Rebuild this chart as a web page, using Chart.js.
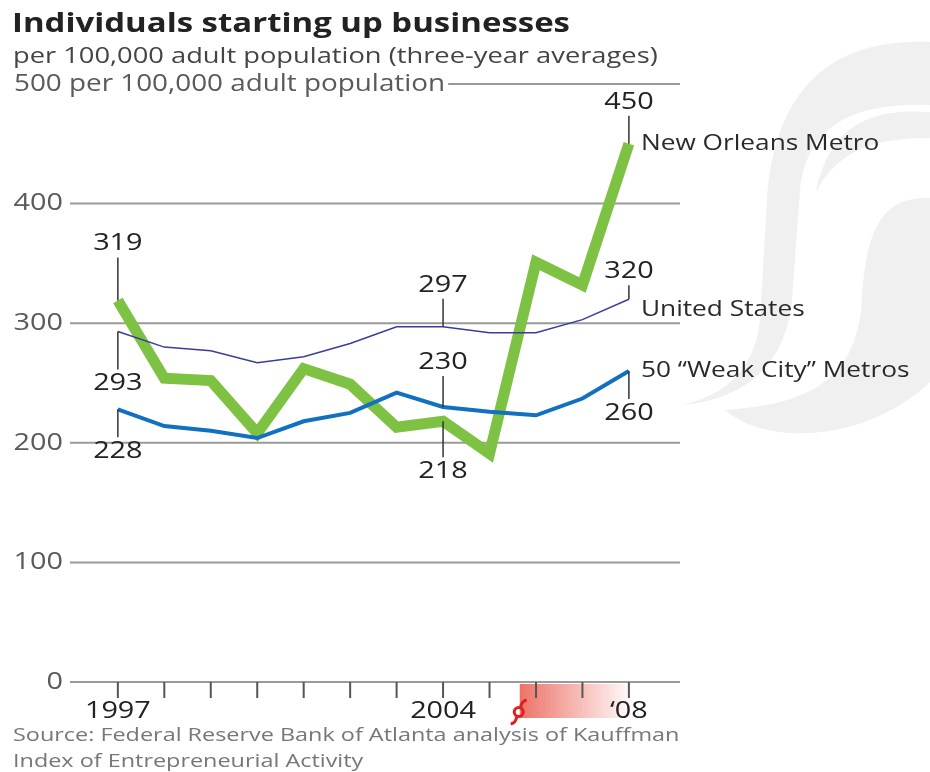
<!DOCTYPE html>
<html>
<head>
<meta charset="utf-8">
<script src="https://cdn.jsdelivr.net/npm/chart.js@4.4.1/dist/chart.umd.min.js"></script>
<style>
  html, body { margin: 0; padding: 0; background: #fff; }
  #wrap { position: relative; width: 930px; height: 772px; overflow: hidden; }
  #chart { position: absolute; left: 0; top: 0; }
  .txt { position: absolute; font-family: "Open Sans", sans-serif; white-space: nowrap; line-height: 1; transform-origin: 0 0; }
  #title { left: 12px; top: 8px; font-size: 27px; font-weight: 700; color: #222; transform: scaleX(1.22); }
  #subtitle { left: 13px; top: 43px; font-size: 22px; color: #444; transform: scaleX(1.24); }
  #source { left: 13px; top: 721px; font-size: 18px; line-height: 26px; color: #777; transform: scaleX(1.3); }
</style>
</head>
<body>
<div id="wrap">
  <canvas id="chart" width="930" height="772"></canvas>
  <div class="txt" id="title">Individuals starting up businesses</div>
  <div class="txt" id="subtitle">per 100,000 adult population (three-year averages)</div>
  <div class="txt" id="source">Source: Federal Reserve Bank of Atlanta analysis of Kauffman<br>Index of Entrepreneurial Activity</div>
</div>
<script>
const years = [1997, 1998, 1999, 2000, 2001, 2002, 2003, 2004, 2005, 2006, 2007, 2008];
const newOrleans = [319, 254, 252, 208, 262, 249, 213, 218, 191, 351, 332, 450];
const unitedStates = [293, 280, 277, 267, 272, 283, 297, 297, 292, 292, 303, 320];
const weakCity = [228, 214, 210, 204, 218, 225, 242, 230, 226, 223, 237, 260];
const yTicks = [0, 100, 200, 300, 400, 500];
const yTickLabels = ["0", "100", "200", "300", "400", "500 per 100,000 adult population"];
const xLabels = [[1997, "1997"], [2004, "2004"], [2008, "\u201808"]];
const katrinaStart = 2005.65;

const FONT = '"Open Sans", sans-serif';
const NUM_FONT = "24px " + FONT;
const NUM_SX = 1.2;

// callouts: series, year index, side
const callouts = [
  { data: newOrleans, i: 0, side: "up", gap: 57 },
  { data: unitedStates, i: 0, side: "down", gap: 52 },
  { data: weakCity, i: 0, side: "down", gap: 42 },
  { data: unitedStates, i: 7, side: "up", gap: 42 },
  { data: weakCity, i: 7, side: "up", gap: 45 },
  { data: newOrleans, i: 7, side: "down", gap: 50 },
  { data: newOrleans, i: 11, side: "up", gap: 42 },
  { data: unitedStates, i: 11, side: "up", gap: 28 },
  { data: weakCity, i: 11, side: "down", gap: 42 },
];
const seriesLabels = [
  { text: "New Orleans Metro", data: newOrleans, dy: 0 },
  { text: "United States", data: unitedStates, dy: 11 },
  { text: "50 \u201cWeak City\u201d Metros", data: weakCity, dy: 0 },
];

function pts(arr) {
  return arr.map((v, i) => ({ x: years[i], y: v }));
}

// text squeezed out sideways like the original print type
function wideText(ctx, s, x, y, sx, align) {
  ctx.save();
  ctx.translate(x, y);
  ctx.scale(sx, 1);
  ctx.textAlign = align;
  ctx.fillText(s, 0, 0);
  ctx.restore();
  return ctx.measureText(s).width * sx;
}

function watermark(ctx) {
  ctx.fillStyle = "#f0f0f0";
  ctx.beginPath();
  ctx.moveTo(930, 42);
  ctx.bezierCurveTo(840, 38, 775, 80, 767, 200);
  ctx.lineTo(760, 320);
  ctx.bezierCurveTo(755, 370, 725, 395, 682, 405);
  ctx.bezierCurveTo(740, 400, 785, 370, 792, 300);
  ctx.lineTo(800, 190);
  ctx.bezierCurveTo(808, 120, 860, 103, 930, 105);
  ctx.closePath();
  ctx.fill();

  ctx.beginPath();
  ctx.moveTo(930, 112);
  ctx.bezierCurveTo(870, 108, 830, 125, 816, 192);
  ctx.bezierCurveTo(838, 150, 875, 138, 930, 138);
  ctx.closePath();
  ctx.fill();

  ctx.beginPath();
  ctx.moveTo(930, 198);
  ctx.bezierCurveTo(880, 196, 866, 232, 862, 300);
  ctx.bezierCurveTo(857, 372, 820, 404, 725, 410);
  ctx.bezierCurveTo(770, 448, 870, 440, 930, 382);
  ctx.closePath();
  ctx.fill();
}

const backdrop = {
  id: "backdrop",
  beforeDatasetsDraw(chart) {
    const ctx = chart.ctx;
    const xs = chart.scales.x, ys = chart.scales.y;
    const right = chart.chartArea.right;
    ctx.save();

    watermark(ctx);

    // katrina band
    const kx0 = xs.getPixelForValue(katrinaStart);
    const kx1 = xs.getPixelForValue(2008.1);
    const y0 = ys.getPixelForValue(0);
    const g = ctx.createLinearGradient(kx0, 0, kx1, 0);
    g.addColorStop(0, "rgba(234,90,78,0.85)");
    g.addColorStop(1, "rgba(234,90,78,0.0)");
    ctx.fillStyle = g;
    ctx.fillRect(kx0, y0 + 2, kx1 - kx0, 34);

    // hurricane symbol
    const hx = kx0 - 1, hy = y0 + 30;
    ctx.strokeStyle = "#e02020";
    ctx.lineWidth = 3;
    ctx.beginPath();
    ctx.arc(hx, hy, 4.5, 0, Math.PI * 2);
    ctx.stroke();
    ctx.beginPath();
    ctx.moveTo(hx + 2, hy - 5);
    ctx.quadraticCurveTo(hx + 3, hy - 11, hx + 8, hy - 12);
    ctx.moveTo(hx - 2, hy + 5);
    ctx.quadraticCurveTo(hx - 3, hy + 11, hx - 8, hy + 12);
    ctx.stroke();

    // gridlines and y labels
    ctx.font = NUM_FONT;
    ctx.textBaseline = "middle";
    yTicks.forEach((v, k) => {
      const y = ys.getPixelForValue(v);
      const label = yTickLabels[k];
      ctx.fillStyle = "#5a5a5a";
      let start;
      if (label.length <= 3) {
        wideText(ctx, label, 63, y, NUM_SX, "right");
        start = 70;
      } else {
        start = 14 + wideText(ctx, label, 14, y, 1.16, "left") + 3;
      }
      ctx.strokeStyle = "#9a9a9a";
      ctx.lineWidth = 2;
      ctx.beginPath();
      ctx.moveTo(start, y);
      ctx.lineTo(right, y);
      ctx.stroke();
    });

    // x ticks
    ctx.strokeStyle = "#555";
    ctx.lineWidth = 2;
    years.forEach((yr) => {
      const x = xs.getPixelForValue(yr);
      ctx.beginPath();
      ctx.moveTo(x, y0);
      ctx.lineTo(x, y0 + 16);
      ctx.stroke();
    });
    ctx.fillStyle = "#222";
    xLabels.forEach(([yr, t]) => {
      wideText(ctx, t, xs.getPixelForValue(yr), y0 + 29, NUM_SX, "center");
    });
    ctx.restore();
  },
  afterDatasetsDraw(chart) {
    const ctx = chart.ctx;
    const xs = chart.scales.x, ys = chart.scales.y;
    ctx.save();
    ctx.textBaseline = "middle";
    callouts.forEach((c) => {
      const x = xs.getPixelForValue(years[c.i]);
      const y = ys.getPixelForValue(c.data[c.i]);
      const dir = c.side === "up" ? -1 : 1;
      const ly = y + dir * c.gap;
      ctx.strokeStyle = "#333";
      ctx.lineWidth = 1.5;
      ctx.beginPath();
      ctx.moveTo(x, y);
      ctx.lineTo(x, ly - dir * 14);
      ctx.stroke();
      ctx.fillStyle = "#222";
      ctx.font = NUM_FONT;
      wideText(ctx, String(c.data[c.i]), x, ly, NUM_SX, "center");
    });
    ctx.font = "21px " + FONT;
    seriesLabels.forEach((s) => {
      const n = s.data.length - 1;
      const x = xs.getPixelForValue(years[n]) + 12;
      const y = ys.getPixelForValue(s.data[n]) + s.dy;
      ctx.fillStyle = "#2a2a2a";
      wideText(ctx, s.text, x, y, 1.25, "left");
    });
    ctx.restore();
  },
};

new Chart(document.getElementById("chart"), {
  type: "line",
  data: {
    datasets: [
      {
        label: "New Orleans Metro",
        data: pts(newOrleans),
        borderColor: "#7dc242",
        borderWidth: 11,
        pointRadius: 0,
        tension: 0,
        order: 3,
      },
      {
        label: "United States",
        data: pts(unitedStates),
        borderColor: "#3b3b9e",
        borderWidth: 1.5,
        pointRadius: 0,
        tension: 0,
        order: 2,
      },
      {
        label: "50 \"Weak City\" Metros",
        data: pts(weakCity),
        borderColor: "#1170c0",
        borderWidth: 4,
        pointRadius: 0,
        tension: 0,
        order: 1,
      },
    ],
  },
  options: {
    responsive: false,
    animation: false,
    layout: { padding: { left: 70, right: 250, top: 84, bottom: 90 } },
    scales: {
      x: { type: "linear", min: 1995.97, max: 2009.1, display: false },
      y: { min: 0, max: 500, display: false },
    },
    plugins: { legend: { display: false }, tooltip: { enabled: false } },
  },
  plugins: [backdrop],
});
</script>
</body>
</html>
